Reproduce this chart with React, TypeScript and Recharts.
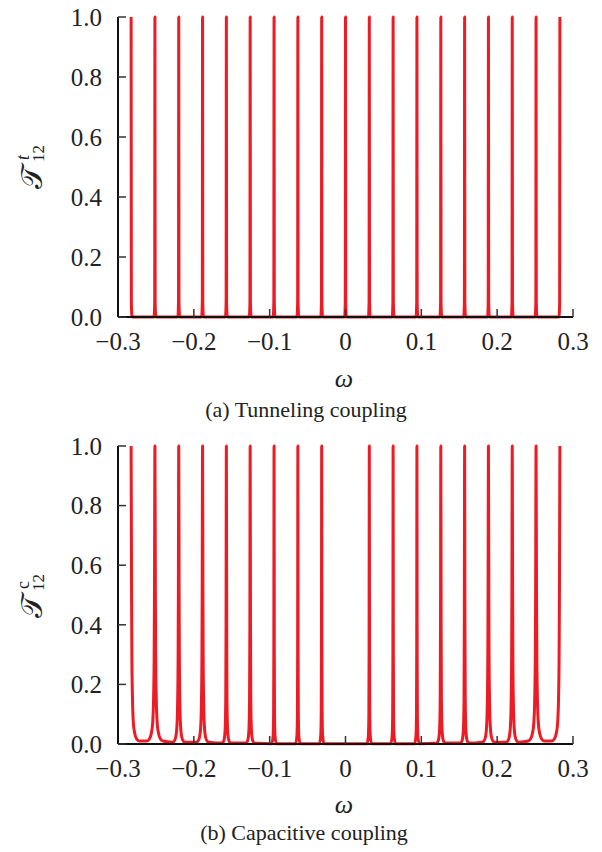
import React from 'react';
import { LineChart, Line, XAxis, YAxis } from 'recharts';

// resonance positions
const peakPositions = [
  -0.2827, -0.2513, -0.2199, -0.1885, -0.1571, -0.1257, -0.0942, -0.0628, -0.0314, 0,
  0.0314, 0.0628, 0.0942, 0.1257, 0.1571, 0.1885, 0.2199, 0.2513, 0.2827,
];
const tunnelingPeaks = peakPositions;
const capacitivePeaks = peakPositions.filter((p) => p !== 0);
const capacitiveWidths = [
  'wide', 'wide', 'medium', 'medium', 'narrow', 'narrow', 'sharp', 'sharp', 'sharp',
  'sharp', 'sharp', 'sharp', 'narrow', 'narrow', 'medium', 'medium', 'wide', 'wide',
];

// half line shapes: [offset from peak, transmission]
const tunnelingShape = [[0, 1], [0.0003, 0.05], [0.0012, 0]];
const peakShapes: Record<string, number[][]> = {
  wide: [[0, 1], [0.0006, 0.5], [0.001, 0.3], [0.0018, 0.15], [0.003, 0.07], [0.0048, 0.035], [0.0075, 0.016], [0.0105, 0.01]],
  medium: [[0, 1], [0.0005, 0.5], [0.0008, 0.3], [0.0014, 0.15], [0.0024, 0.06], [0.0038, 0.025], [0.0062, 0.009], [0.009, 0.006]],
  narrow: [[0, 1], [0.0004, 0.4], [0.0008, 0.15], [0.0016, 0.05], [0.003, 0.015], [0.0055, 0.003]],
  sharp: [[0, 1], [0.0003, 0.3], [0.0006, 0.1], [0.0012, 0.03], [0.003, 0.001]],
};

const xTicks = [-0.3, -0.2, -0.1, 0, 0.1, 0.2, 0.3];
const xTickLabels = ['−0.3', '−0.2', '−0.1', '0', '0.1', '0.2', '0.3'];
const yTicks = [0, 0.2, 0.4, 0.6, 0.8, 1];
const yTickLabels = ['0.0', '0.2', '0.4', '0.6', '0.8', '1.0'];

const FONT = "'Liberation Serif', 'DejaVu Serif', serif";
const RED = '#ed1c24';

const buildCurve = (peaks: number[], shapes: number[][][]) => {
  const pts: { x: number; y: number }[] = [];
  peaks.forEach((p, i) => {
    const s = shapes[i];
    if (i > 0) {
      for (let j = s.length - 1; j > 0; j--) pts.push({ x: p - s[j][0], y: s[j][1] });
    }
    pts.push({ x: p, y: s[0][1] });
    if (i < peaks.length - 1) {
      for (let j = 1; j < s.length; j++) pts.push({ x: p + s[j][0], y: s[j][1] });
    }
  });
  return pts;
};

const tunnelingData = buildCurve(tunnelingPeaks, tunnelingPeaks.map(() => tunnelingShape));
const capacitiveData = buildCurve(capacitivePeaks, capacitiveWidths.map((w) => peakShapes[w]));

const fmtX = (v: number) => xTickLabels[xTicks.indexOf(v)] ?? String(v);
const fmtY = (v: number) => yTickLabels[yTicks.indexOf(v)] ?? String(v);

const axisLine = { stroke: '#111', strokeWidth: 2 };
const tickLine = { stroke: '#333', strokeWidth: 1.5 };
const tickFont = { fill: '#222', fontSize: 25, fontFamily: 'Liberation Serif' };

const Panel = ({ data, top, height }: { data: any[]; top: number; height: number }) => (
  <div style={{ position: 'absolute', left: 0, top }}>
    <LineChart width={602} height={height} data={data} margin={{ top: 17, right: 29, bottom: 0, left: 58 }}>
      <XAxis
        xAxisId="b" dataKey="x" type="number" domain={[-0.3, 0.3]} ticks={xTicks} interval={0}
        height={43} tickSize={-8} tickMargin={23} tickFormatter={fmtX} tick={tickFont}
        axisLine={axisLine} tickLine={tickLine}
      />
      <XAxis
        xAxisId="t" orientation="top" dataKey="x" type="number" domain={[-0.3, 0.3]} ticks={xTicks}
        interval={0} height={0} tickSize={-8} tick={false} axisLine={axisLine} tickLine={tickLine}
      />
      <YAxis
        yAxisId="l" type="number" domain={[0, 1]} ticks={yTicks} interval={0} width={60}
        tickSize={-8} tickMargin={24} tickFormatter={fmtY} tick={tickFont}
        axisLine={axisLine} tickLine={tickLine}
      />
      <YAxis
        yAxisId="r" orientation="right" type="number" domain={[0, 1]} ticks={yTicks} interval={0}
        width={0} tickSize={-8} tick={false} axisLine={axisLine} tickLine={tickLine}
      />
      <Line
        xAxisId="b" yAxisId="l" dataKey="y" type="monotoneX" stroke={RED} strokeWidth={3}
        strokeLinejoin="round" dot={false} isAnimationActive={false}
      />
    </LineChart>
  </div>
);

const YLabel = ({ cx, cy, sup }: { cx: number; cy: number; sup: string }) => (
  <g transform={`translate(${cx},${cy}) rotate(-90)`} fill="#222">
    <text x={-22} y={11} fontSize={30}>𝒯</text>
    <text x={5} y={13} fontSize={17}>12</text>
    <text x={7} y={-2} fontSize={18} fontStyle={sup === 't' ? 'italic' : 'normal'}>{sup}</text>
  </g>
);

export default function App() {
  return (
    <div style={{ position: 'absolute', left: 0, top: 0, width: 602, height: 852, background: '#fff', fontFamily: FONT }}>
      <Panel data={tunnelingData} top={0} height={360} />
      <Panel data={capacitiveData} top={429} height={358} />
      <svg width={602} height={852} style={{ position: 'absolute', left: 0, top: 0, pointerEvents: 'none', fontFamily: FONT }}>
        <YLabel cx={31} cy={167} sup="t" />
        <YLabel cx={31} cy={596} sup="c" />
        <text x={344} y={387} fontSize={26} fontStyle="italic" textAnchor="middle" fill="#222">ω</text>
        <text x={306} y={417} fontSize={22} textAnchor="middle" fill="#222">(a) Tunneling coupling</text>
        <text x={344} y={813} fontSize={26} fontStyle="italic" textAnchor="middle" fill="#222">ω</text>
        <text x={304} y={840} fontSize={22} textAnchor="middle" fill="#222">(b) Capacitive coupling</text>
      </svg>
    </div>
  );
}
